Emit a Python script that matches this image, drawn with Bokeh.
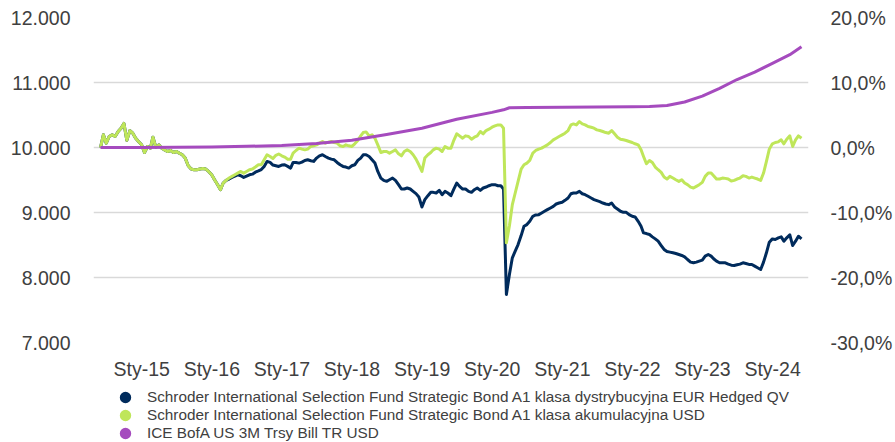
import numpy as np
import pandas as pd
from bokeh.plotting import figure
from bokeh.layouts import column
from bokeh.models import Range1d, LinearAxis, FixedTicker, Legend, LegendItem
from bokeh.embed import file_html
from bokeh.resources import INLINE

# ---------------- data ----------------
series_start = "2014-05-31"      # semi-monthly observations (15th and month end)

green_values = [
    10000, 10195, 10067, 10169, 10195, 10169, 10246, 10297, 10370, 10110,
    10260, 10220, 10143, 10092, 10041, 9923, 10016, 9990, 10159, 10005,
    10041, 9990, 9964, 9939, 9954, 9923, 9939, 9913, 9888, 9837,
    9719, 9668, 9658, 9658, 9668, 9678, 9668, 9632, 9581, 9504,
    9428, 9351, 9453, 9494, 9530, 9555, 9581, 9606, 9632, 9606,
    9632, 9658, 9668, 9699, 9734, 9734, 9811, 9888, 9862, 9830,
    9880, 9900, 9872, 9852, 9821, 9821, 9913, 9954, 9990, 9975,
    9964, 9975, 10016, 10026, 10041, 10067, 10092, 10067, 10082, 10092,
    10077, 10067, 10026, 10016, 10041, 10026, 10016, 10057, 10108, 10179,
    10230, 10240, 10179, 10195, 10143, 10041, 9923, 9939, 9939, 9913,
    9939, 9964, 9903, 9872, 9939, 9964, 9939, 9888, 9821, 9734,
    9632, 9837, 9888, 9923, 9964, 9990, 9975, 9939, 10016, 9990,
    9990, 10110, 10210, 10179, 10143, 10179, 10169, 10128, 10159, 10179,
    10246, 10210, 10261, 10281, 10312, 10333, 10348, 10348, 10297, 8533,
    8800, 9121, 9300, 9479, 9668, 9734, 9760, 9801, 9913, 9954,
    9975, 9990, 10016, 10041, 10077, 10118, 10143, 10169, 10195, 10220,
    10261, 10348, 10363, 10348, 10399, 10363, 10348, 10322, 10312, 10297,
    10271, 10261, 10246, 10230, 10220, 10261, 10210, 10159, 10128, 10118,
    10108, 10093, 10077, 10057, 10041, 9965, 9862, 9750, 9801, 9770,
    9699, 9658, 9617, 9545, 9515, 9556, 9530, 9504, 9479, 9504,
    9453, 9428, 9391, 9377, 9402, 9428, 9464, 9556, 9607, 9607,
    9566, 9515, 9515, 9530, 9525, 9515, 9484, 9494, 9515, 9530,
    9566, 9556, 9530, 9545, 9530, 9515, 9494, 9607, 9786, 9975,
    10057, 10077, 10087, 10118, 10057, 10128, 10179, 10016, 10118, 10179,
    10143,
]

navy_values = [
    10000, 10195, 10067, 10169, 10195, 10169, 10246, 10297, 10370, 10110,
    10260, 10220, 10143, 10092, 10041, 9923, 10016, 9990, 10159, 10005,
    10041, 9990, 9964, 9939, 9954, 9923, 9939, 9913, 9888, 9837,
    9719, 9668, 9658, 9658, 9668, 9678, 9668, 9632, 9581, 9504,
    9428, 9351, 9453, 9494, 9515, 9540, 9560, 9580, 9566, 9540,
    9560, 9580, 9590, 9620, 9640, 9660, 9709, 9786, 9770, 9730,
    9719, 9709, 9729, 9734, 9709, 9683, 9770, 9770, 9760, 9775,
    9801, 9811, 9796, 9786, 9837, 9872, 9888, 9862, 9837, 9821,
    9811, 9770, 9734, 9709, 9699, 9683, 9719, 9734, 9801, 9837,
    9888, 9888, 9862, 9811, 9760, 9632, 9530, 9494, 9479, 9504,
    9530, 9494, 9428, 9361, 9361, 9377, 9361, 9325, 9290, 9238,
    9085, 9198, 9259, 9310, 9310, 9300, 9341, 9274, 9325, 9300,
    9259, 9361, 9453, 9402, 9361, 9361, 9325, 9310, 9351, 9377,
    9341, 9377, 9392, 9412, 9428, 9428, 9412, 9412, 9361, 7740,
    8050, 8303, 8405, 8507, 8645, 8789, 8814, 8865, 8942, 8962,
    8967, 8993, 9019, 9044, 9070, 9095, 9131, 9146, 9157, 9187,
    9223, 9289, 9300, 9300, 9325, 9289, 9274, 9249, 9223, 9198,
    9182, 9167, 9146, 9131, 9121, 9146, 9085, 9054, 9019, 9003,
    9003, 8968, 8942, 8932, 8865, 8789, 8686, 8676, 8661, 8625,
    8594, 8559, 8492, 8431, 8400, 8390, 8380, 8369, 8354, 8339,
    8318, 8277, 8237, 8226, 8237, 8252, 8267, 8329, 8354, 8329,
    8288, 8252, 8226, 8226, 8226, 8206, 8190, 8185, 8196, 8206,
    8226, 8216, 8201, 8201, 8175, 8150, 8124, 8237, 8380, 8543,
    8594, 8584, 8610, 8625, 8559, 8610, 8656, 8492, 8559, 8635,
    8594,
]

bill_dates = [
    "2014-05-31", "2014-12-31", "2015-06-30", "2015-12-31", "2016-06-30",
    "2016-12-31", "2017-06-30", "2017-12-31", "2018-06-30", "2018-12-31",
    "2019-06-30", "2019-12-31", "2020-02-29", "2020-03-31", "2020-06-30",
    "2020-12-31", "2021-06-30", "2021-12-31", "2022-03-31", "2022-06-30",
    "2022-09-30", "2022-12-31", "2023-03-31", "2023-06-30", "2023-09-30",
    "2023-12-31", "2024-03-31", "2024-05-31",
]
bill_values = [
    10000, 10001, 10003, 10008, 10018,
    10030, 10060, 10110, 10200, 10295,
    10435, 10540, 10580, 10612, 10616,
    10620, 10624, 10627, 10632, 10645,
    10700, 10790, 10911, 11046, 11160,
    11294, 11428, 11549,
]

left_ticks = [7000, 8000, 9000, 10000, 11000, 12000]
left_labels = ["7.000", "8.000", "9.000", "10.000", "11.000", "12.000"]
right_ticks = [-30, -20, -10, 0, 10, 20]
right_labels = ["-30,0%", "-20,0%", "-10,0%", "0,0%", "10,0%", "20,0%"]
year_ticks = [2015, 2016, 2017, 2018, 2019, 2020, 2021, 2022, 2023, 2024]
year_labels = ["Sty-15", "Sty-16", "Sty-17", "Sty-18", "Sty-19",
               "Sty-20", "Sty-21", "Sty-22", "Sty-23", "Sty-24"]

series_names = [
    "Schroder International Selection Fund Strategic Bond A1 klasa dystrybucyjna EUR Hedged QV",
    "Schroder International Selection Fund Strategic Bond A1 klasa akumulacyjna USD",
    "ICE BofA US 3M Trsy Bill TR USD",
]
series_colors = ["#002b5c", "#bfe65a", "#a54bbe"]
base_value = 10000

# ---------------- helpers ----------------
def frac_year(d):
    d = pd.Timestamp(d)
    return d.year + (d.dayofyear - 1) / (366.0 if d.is_leap_year else 365.0)

dates = [pd.Timestamp(series_start)]
m = pd.Timestamp(series_start) + pd.Timedelta(days=1)
while len(dates) < len(green_values):
    dates.append(m + pd.Timedelta(days=14))
    if len(dates) < len(green_values):
        dates.append(m + pd.offsets.MonthEnd(0))
    m = m + pd.DateOffset(months=1)

x_series = np.array([frac_year(d) for d in dates])
x_bill = np.array([frac_year(d) for d in bill_dates])

FONT = "Liberation Sans"
TXT = "#404040"
W = 895

# ---------------- main chart ----------------
pad = 0.1
chart = figure(width=W, height=384, output_backend="svg", toolbar_location=None,
               x_range=Range1d(x_series[0] - pad, x_series[-1] + pad),
               y_range=Range1d(left_ticks[0], left_ticks[-1]),
               min_border_left=93, min_border_right=85,
               min_border_top=17, min_border_bottom=42)
chart.outline_line_color = None
chart.background_fill_color = "white"
chart.border_fill_color = "white"
chart.xgrid.visible = False
chart.ygrid.grid_line_color = "#d9d9d9"
chart.ygrid.grid_line_width = 1.5

pct_lo = (left_ticks[0] - base_value) / base_value * 100
pct_hi = (left_ticks[-1] - base_value) / base_value * 100
chart.extra_y_ranges = {"pct": Range1d(pct_lo, pct_hi)}


def style_axis(ax, standoff):
    ax.axis_line_color = None
    ax.major_tick_line_color = None
    ax.minor_tick_line_color = None
    ax.major_tick_out = 0
    ax.major_tick_in = 0
    ax.minor_tick_out = 0
    ax.major_label_standoff = standoff
    ax.major_label_text_font = FONT
    ax.major_label_text_font_size = "19.5px"
    ax.major_label_text_color = TXT


chart.yaxis.ticker = FixedTicker(ticks=left_ticks)
chart.yaxis.major_label_overrides = dict(zip(left_ticks, left_labels))
style_axis(chart.yaxis[0], 23)

chart.xaxis.ticker = FixedTicker(ticks=year_ticks)
chart.xaxis.major_label_overrides = dict(zip(year_ticks, year_labels))
style_axis(chart.xaxis[0], 15)

right = LinearAxis(y_range_name="pct", ticker=FixedTicker(ticks=right_ticks))
right.major_label_overrides = dict(zip(right_ticks, right_labels))
style_axis(right, 22)
chart.add_layout(right, "right")

# lines: navy below, lime above, purple on top
chart.line(x_series, navy_values, line_color=series_colors[0], line_width=3, line_join="round")
chart.line(x_series, green_values, line_color=series_colors[1], line_width=3, line_join="round")
chart.line(x_bill, bill_values, line_color=series_colors[2], line_width=3, line_join="round")

# ---------------- legend strip ----------------
legend_fig = figure(width=W, height=58, output_backend="svg", toolbar_location=None,
                    x_axis_type=None, y_axis_type=None,
                    x_range=Range1d(0, 1), y_range=Range1d(0, 1),
                    min_border=0)
legend_fig.outline_line_color = None
legend_fig.grid.visible = False
legend_fig.background_fill_color = "white"
legend_fig.border_fill_color = "white"

items = []
for name, color in zip(series_names, series_colors):
    r = legend_fig.scatter(x=np.array([np.nan]), y=np.array([np.nan]), marker="circle",
                           size=6, fill_color=color, line_color=color, line_width=5)
    items.append(LegendItem(label=name, renderers=[r]))

# the strip's frame is aligned with the chart's frame (left edge at x=93)
legend = Legend(items=items, location=(24, 0), orientation="vertical",
                margin=0, padding=0, spacing=-2, glyph_width=16, glyph_height=16,
                label_standoff=14, label_height=15, border_line_color=None,
                background_fill_alpha=0, label_text_font=FONT,
                label_text_font_size="15.3px", label_text_color=TXT)
legend_fig.add_layout(legend)

p = column(chart, legend_fig, spacing=0)

open("out.html", "w").write(file_html(p, INLINE))
